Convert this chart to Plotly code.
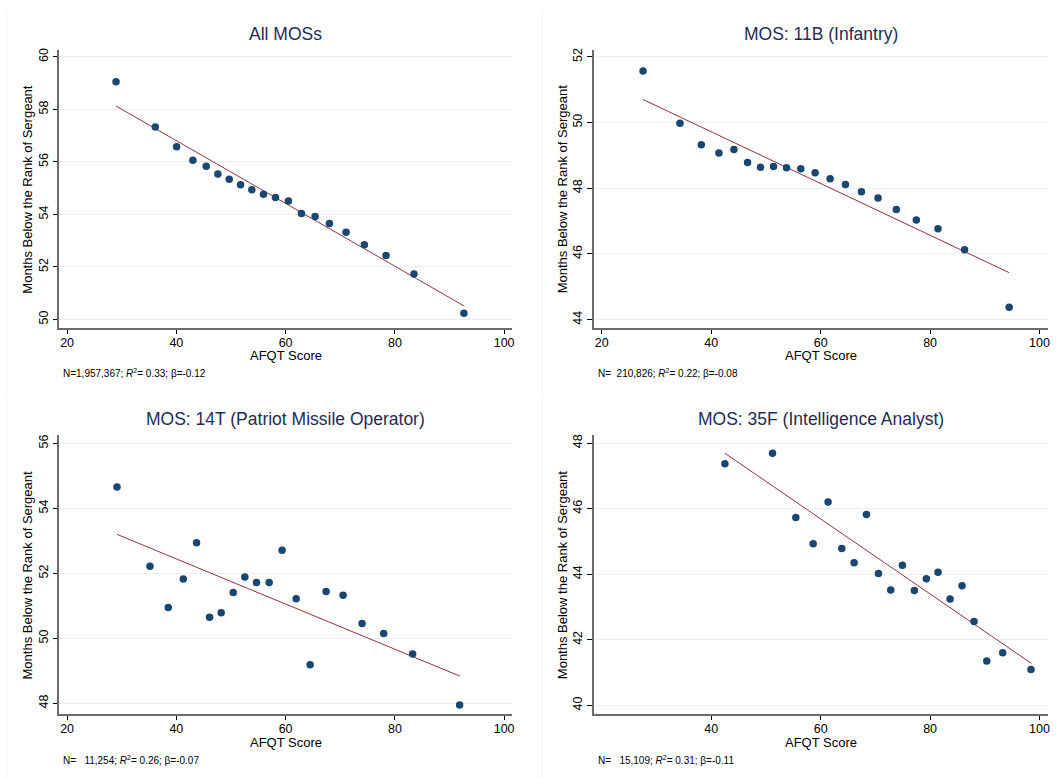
import plotly.graph_objects as go

# ---------------- data ----------------
titles = ["All MOSs", "MOS: 11B (Infantry)",
          "MOS: 14T (Patriot Missile Operator)", "MOS: 35F (Intelligence Analyst)"]
notes = ["N=1,957,367; <i>R</i><sup>2</sup>= 0.33; β=-0.12",
         "N=\u00a0 210,826; <i>R</i><sup>2</sup>= 0.22; β=-0.08",
         "N=\u00a0\u00a0 11,254; <i>R</i><sup>2</sup>= 0.26; β=-0.07",
         "N=\u00a0\u00a0 15,109; <i>R</i><sup>2</sup>= 0.31; β=-0.11"]

all_x = [28.96, 36.15, 40.05, 43.03, 45.47, 47.60, 49.68, 51.75, 53.82, 55.95,
         58.15, 60.52, 62.90, 65.40, 68.02, 71.07, 74.42, 78.38, 83.50, 92.64]
all_y = [59.05, 57.33, 56.58, 56.06, 55.84, 55.54, 55.34, 55.13, 54.94, 54.77,
         54.65, 54.51, 54.04, 53.92, 53.66, 53.32, 52.85, 52.44, 51.73, 50.24]
all_fit_x = [28.96, 92.70]
all_fit_y = [58.13, 50.51]

inf_x = [27.54, 34.29, 38.19, 41.41, 44.15, 46.64, 49.01, 51.39, 53.76, 56.37,
         58.99, 61.73, 64.53, 67.45, 70.49, 73.83, 77.48, 81.44, 86.30, 94.45]
inf_y = [51.57, 49.98, 49.32, 49.07, 49.18, 48.78, 48.64, 48.66, 48.62, 48.59,
         48.47, 48.29, 48.11, 47.89, 47.70, 47.35, 47.03, 46.77, 46.13, 44.38]
inf_fit_x = [27.54, 94.45]
inf_fit_y = [50.70, 45.43]

pat_x = [29.14, 35.17, 38.52, 41.27, 43.70, 46.08, 48.21, 50.41, 52.54, 54.67,
         56.99, 59.36, 61.93, 64.49, 67.41, 70.52, 73.99, 77.95, 83.25, 91.85]
pat_y = [54.66, 52.22, 50.95, 51.83, 52.94, 50.65, 50.79, 51.41, 51.89, 51.72,
         51.72, 52.71, 51.22, 49.19, 51.44, 51.33, 50.46, 50.15, 49.52, 47.95]
pat_fit_x = [29.14, 91.90]
pat_fit_y = [53.20, 48.84]

int_x = [42.50, 51.20, 55.46, 58.63, 61.36, 63.86, 66.11, 68.37, 70.56, 72.81,
         74.94, 77.13, 79.32, 81.45, 83.65, 85.84, 88.03, 90.35, 93.27, 98.44]
int_y = [47.37, 47.69, 45.73, 44.93, 46.20, 44.78, 44.35, 45.82, 44.02, 43.52,
         44.27, 43.50, 43.86, 44.06, 43.24, 43.65, 42.56, 41.35, 41.60, 41.09]
int_fit_x = [42.50, 98.50]
int_fit_y = [47.69, 41.28]

x_ticks = [[20, 40, 60, 80, 100], [20, 40, 60, 80, 100],
           [20, 40, 60, 80, 100], [40, 60, 80, 100]]
y_ticks = [[50, 52, 54, 56, 58, 60], [44, 46, 48, 50, 52],
           [48, 50, 52, 54, 56], [40, 42, 44, 46, 48]]
x_title = "AFQT Score"
y_title = "Months Below the Rank of Sergeant"

# ---------------- layout geometry ----------------
W, H = 1064, 778
x_range = [18.5, 101.5]
y_ranges = [[49.68, 60.28], [43.75, 52.22], [47.67, 56.26], [39.73, 48.25]]
px_boxes = [(59, 513.3, 47.7, 326.7), (594.7, 1049.7, 47.7, 326.7),
            (59, 513.3, 434, 714), (594.7, 1049.7, 434, 714)]

FONT = "Liberation Sans, Arial, sans-serif"
NAVY = "#1a476f"
MAROON = "#90353b"
TITLE_C = "#1f2d55"
AXIS_C = "#6b6b6b"
GRID_C = "#e8f0f2"

series = [(all_x, all_y, all_fit_x, all_fit_y),
          (inf_x, inf_y, inf_fit_x, inf_fit_y),
          (pat_x, pat_y, pat_fit_x, pat_fit_y),
          (int_x, int_y, int_fit_x, int_fit_y)]

fig = go.Figure()
layout = dict(width=W, height=H, margin=dict(l=0, r=0, t=0, b=0),
              paper_bgcolor="white", plot_bgcolor="white", showlegend=False,
              font=dict(family=FONT, color="black"))
annotations = []
shapes = []

for i, (sx, sy, fx, fy) in enumerate(series):
    n = "" if i == 0 else str(i + 1)
    x0, x1, y0, y1 = px_boxes[i]
    fig.add_trace(go.Scatter(x=fx, y=fy, mode="lines",
                             line=dict(color=MAROON, width=1),
                             xaxis="x" + n, yaxis="y" + n, hoverinfo="skip"))
    fig.add_trace(go.Scatter(x=sx, y=sy, mode="markers",
                             marker=dict(color=NAVY, size=7.5, line=dict(width=0)),
                             xaxis="x" + n, yaxis="y" + n))
    layout["xaxis" + n] = dict(
        domain=[x0 / W, x1 / W], range=x_range, anchor="y" + n,
        tickvals=x_ticks[i], ticks="outside", ticklen=4.5, tickwidth=1,
        tickcolor="black", showgrid=False, zeroline=False,
        showline=True, linecolor=AXIS_C, linewidth=1.5, ticklabelstandoff=-2,
        tickfont=dict(size=12.5, color="black", family=FONT))
    layout["yaxis" + n] = dict(
        domain=[1 - y1 / H, 1 - y0 / H], range=y_ranges[i], anchor="x" + n,
        tickvals=y_ticks[i], ticks="outside", ticklen=4.5, tickwidth=1,
        tickcolor="black", tickangle=-90, showgrid=True, gridcolor=GRID_C,
        gridwidth=1, zeroline=False, showline=True, linecolor=AXIS_C,
        linewidth=1.5, tickfont=dict(size=12.5, color="black", family=FONT))
    cx = (x0 + x1) / 2
    # panel title
    annotations.append(dict(text=titles[i], x=cx / W, y=1 - (y0 - 15.5) / H,
                            xref="paper", yref="paper", showarrow=False,
                            xanchor="center", yanchor="middle",
                            font=dict(size=17.5, color=TITLE_C, family=FONT)))
    # x title
    annotations.append(dict(text=x_title, x=cx / W, y=1 - (y1 + 28) / H,
                            xref="paper", yref="paper", showarrow=False,
                            xanchor="center", yanchor="middle",
                            font=dict(size=13, color="black", family=FONT)))
    # y title
    annotations.append(dict(text=y_title, x=(x0 - 31) / W,
                            y=1 - ((y0 + y1) / 2) / H,
                            xref="paper", yref="paper", showarrow=False,
                            xanchor="center", yanchor="middle", textangle=-90,
                            font=dict(size=13, color="black", family=FONT)))
    # note
    annotations.append(dict(text=notes[i], x=(x0 + 2) / W, y=1 - (y1 + 45.5) / H,
                            xref="paper", yref="paper", showarrow=False,
                            xanchor="left", yanchor="middle",
                            font=dict(size=10, color="black", family=FONT)))

# faint panel borders
for bx, by0, by1 in [(6.7, 9, 394), (543.3, 9, 394), (6.7, 397, 778), (543.3, 397, 778)]:
    shapes.append(dict(type="line", xref="paper", yref="paper",
                       x0=bx / W, x1=bx / W, y0=1 - by0 / H, y1=1 - by1 / H,
                       line=dict(color="#efefef", width=1)))

layout["annotations"] = annotations
layout["shapes"] = shapes
fig.update_layout(**layout)
fig.write_html("out.html")
